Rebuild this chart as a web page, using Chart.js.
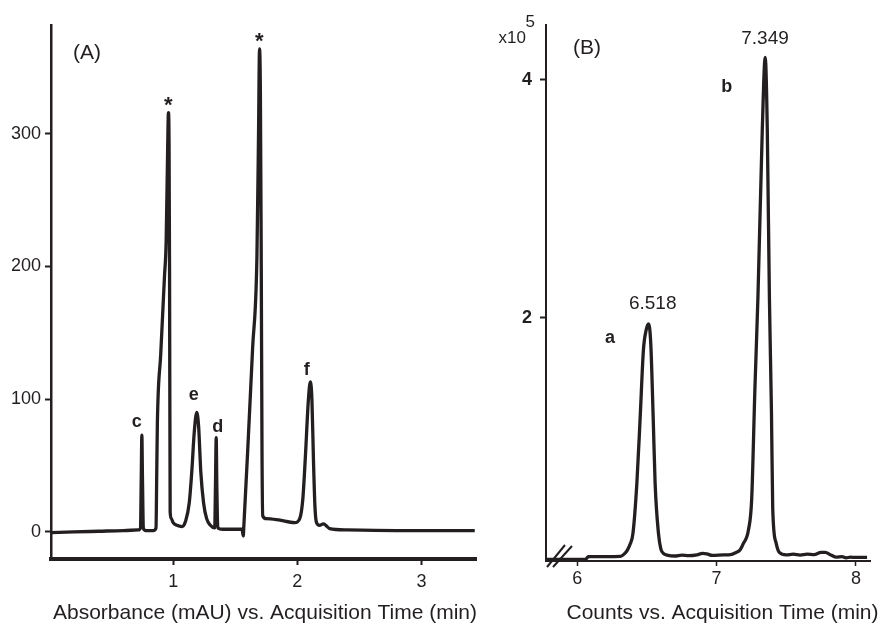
<!DOCTYPE html>
<html>
<head>
<meta charset="utf-8">
<script src="https://cdn.jsdelivr.net/npm/chart.js@4.4.0/dist/chart.umd.min.js"></script>
<style>
  body { margin: 0; background: #fff; }
  #wrap { position: relative; width: 882px; height: 624px; }
  canvas { position: absolute; top: 0; }
  #chartA { left: 0; }
  #chartB { left: 490px; }
</style>
</head>
<body>
<div id="wrap">
  <canvas id="chartA" width="490" height="624"></canvas>
  <canvas id="chartB" width="392" height="624"></canvas>
</div>
<script>
// ---- panel A: absorbance trace ----
const timeA = [0.016, 0.2, 0.4, 0.6, 0.72, 0.737, 0.743, 0.748, 0.753, 0.76, 0.78, 0.84, 0.862, 0.868, 0.873,
  0.90, 0.93, 0.944, 0.956, 0.962, 0.967, 0.971, 0.976, 0.985, 1.0, 1.03, 1.07, 1.1, 1.13, 1.15, 1.17, 1.19,
  1.205, 1.223, 1.245, 1.27, 1.3, 1.335, 1.341, 1.347, 1.352, 1.36, 1.4, 1.5, 1.555, 1.565, 1.57, 1.6, 1.64,
  1.675, 1.688, 1.696, 1.703, 1.71, 1.716, 1.722, 1.75, 1.85, 1.98, 2.02, 2.045, 2.065, 2.09, 2.105, 2.118,
  2.13, 2.142, 2.155, 2.18, 2.21, 2.23, 2.26, 2.4, 2.8, 3.2, 3.43];
const absA = [-0.5, 0, 0.5, 1, 1.5, 3, 40, 73, 40, 3, 1, 1, 3, 45, 82,
  134, 192, 220, 290, 316, 295, 200, 15, 10, 7, 5, 4, 8, 22, 45, 75, 90,
  80, 45, 22, 10, 5, 3, 35, 71, 35, 3, 2, 2, 2, -3, 5, 60, 138,
  207, 300, 364, 330, 200, 60, 12, 10, 9, 7, 10, 25, 56, 100, 113, 100,
  56, 20, 7, 5, 6, 5, 2.5, 1.5, 1, 1, 1];
const xTicksA = [1, 2, 3];
const yTicksA = [0, 100, 200, 300];
const peakNamesA = ['c', '*', 'e', 'd', '*', 'f'];
const peakTimesA = [0.748, 0.962, 1.19, 1.347, 1.696, 2.105];
const peakHeightsA = [73, 316, 90, 71, 364, 113];

// ---- panel B: MS counts (x10^5) ----
const timeB = [5.776, 6.06, 6.08, 6.2, 6.31, 6.34, 6.36, 6.38, 6.40, 6.428, 6.452, 6.475, 6.495, 6.512, 6.528,
  6.545, 6.559, 6.583, 6.60, 6.62, 6.645, 6.7, 6.75, 6.8, 6.86, 6.9, 6.93, 6.97, 7.05, 7.1, 7.14, 7.168, 7.19,
  7.229, 7.252, 7.275, 7.297, 7.328, 7.349, 7.364, 7.379, 7.394, 7.403, 7.427, 7.45, 7.5, 7.55, 7.6, 7.65,
  7.7, 7.75, 7.78, 7.82, 7.86, 7.9, 7.93, 7.96, 8.0, 8.08];
const countsB = [-0.028, -0.028, -0.005, -0.005, -0.003, 0.02, 0.05, 0.1, 0.19, 0.61, 1.17, 1.73, 1.9, 1.95, 1.78,
  1.17, 0.61, 0.19, 0.06, 0.02, 0.008, 0, 0.008, 0.003, 0.01, 0.022, 0.018, 0.005, 0.01, 0.012, 0.03, 0.05, 0.1,
  0.22, 0.48, 1.4, 2.18, 3.58, 4.19, 3.58, 2.18, 1.2, 0.4, 0.11, 0.03, 0.01, 0.015, 0.008, 0.015,
  0.012, 0.03, 0.03, 0.008, -0.01, -0.005, -0.015, -0.01, -0.012, -0.012];
const xTicksB = [6, 7, 8];
const yTicksB = [2, 4];
const peakNamesB = ['a', 'b'];
const peakTimesB = [6.518, 7.349];
const peakHeightsB = [1.95, 4.19];

const ink = '#231f20';
const family = "'Liberation Sans', Arial, Helvetica, sans-serif";
Chart.defaults.font.family = family;
Chart.defaults.color = ink;

// draw text so that its visible ink is centred on (cx, cy)
function drawInk(ctx, text, cx, cy, font) {
  ctx.font = font;
  ctx.textAlign = 'left';
  ctx.textBaseline = 'alphabetic';
  const m = ctx.measureText(text);
  const x = cx - (m.actualBoundingBoxRight - m.actualBoundingBoxLeft) / 2;
  const y = cy - (m.actualBoundingBoxDescent - m.actualBoundingBoxAscent) / 2;
  ctx.fillText(text, x, y);
}

function points(xs, ys) {
  return xs.map((t, i) => ({ x: t, y: ys[i] }));
}

function fixedTicks(list) {
  return scale => { scale.ticks = list.map(v => ({ value: v })); };
}

const labelOffsetsA = [[-5, -13], [0, -11], [-3, -17], [1, -12.5], [0, -11], [-3, -13.5]];
const valueOffsetsB = [[3, -21], [-0.5, -19.5]];
const nameOffsetsB = [[-39, 14], [-38, 28]];

const annotateA = {
  id: 'annotateA',
  afterDraw(chart) {
    const { ctx, chartArea } = chart;
    const { x, y } = chart.scales;
    ctx.save();
    ctx.fillStyle = ink;
    peakNamesA.forEach((name, i) => {
      const px = x.getPixelForValue(peakTimesA[i]);
      const py = y.getPixelForValue(peakHeightsA[i]);
      const font = name === '*' ? 'bold 22px ' + family : 'bold 18px ' + family;
      drawInk(ctx, name, px + labelOffsetsA[i][0], py + labelOffsetsA[i][1], font);
    });
    drawInk(ctx, '(A)', chartArea.left + 36, chartArea.top + 28, '21px ' + family);
    ctx.font = '21px ' + family;
    ctx.textAlign = 'center';
    ctx.textBaseline = 'alphabetic';
    ctx.fillText('Absorbance (mAU) vs. Acquisition Time (min)', 265, 619);
    ctx.restore();
  }
};

const annotateB = {
  id: 'annotateB',
  afterDraw(chart) {
    const { ctx, chartArea } = chart;
    const { x, y } = chart.scales;
    ctx.save();
    ctx.fillStyle = ink;
    peakNamesB.forEach((name, i) => {
      const px = x.getPixelForValue(peakTimesB[i]);
      const py = y.getPixelForValue(peakHeightsB[i]);
      drawInk(ctx, peakTimesB[i].toFixed(3), px + valueOffsetsB[i][0], py + valueOffsetsB[i][1], '19px ' + family);
      drawInk(ctx, name, px + nameOffsetsB[i][0], py + nameOffsetsB[i][1], 'bold 18px ' + family);
    });
    drawInk(ctx, '(B)', chartArea.left + 41, chartArea.top + 23, '21px ' + family);
    drawInk(ctx, 'x10', 22, 37, '17px ' + family);
    drawInk(ctx, '5', 40, 21, '17px ' + family);
    // axis break marks
    ctx.strokeStyle = ink;
    ctx.lineWidth = 2;
    const l = chartArea.left, b = chartArea.bottom;
    ctx.beginPath();
    ctx.moveTo(l + 1, b + 6); ctx.lineTo(l + 19, b - 16);
    ctx.moveTo(l + 7, b + 6); ctx.lineTo(l + 26, b - 15);
    ctx.stroke();
    ctx.font = '21px ' + family;
    ctx.textAlign = 'center';
    ctx.textBaseline = 'alphabetic';
    ctx.fillText('Counts vs. Acquisition Time (min)', 232.5, 619);
    ctx.restore();
  }
};

new Chart(document.getElementById('chartA'), {
  type: 'line',
  data: {
    datasets: [{
      data: points(timeA, absA),
      borderColor: ink,
      borderWidth: 3.3,
      pointRadius: 0,
      cubicInterpolationMode: 'monotone',
      fill: false
    }]
  },
  options: {
    responsive: false,
    animation: false,
    devicePixelRatio: 1,
    layout: { padding: { left: 0, top: 25, right: 14, bottom: 0 } },
    plugins: { legend: { display: false }, tooltip: { enabled: false } },
    scales: {
      x: {
        type: 'linear',
        min: 0.016,
        max: 3.44,
        afterBuildTicks: fixedTicks(xTicksA),
        afterFit: s => { s.height = 65; },
        border: { display: true, color: ink, width: 4 },
        grid: { drawOnChartArea: false, drawTicks: true, tickLength: 6, tickColor: ink, tickWidth: 2 },
        ticks: { font: { size: 18 }, color: ink, padding: 6, maxRotation: 0 }
      },
      y: {
        type: 'linear',
        min: -20.4,
        max: 382,
        afterBuildTicks: fixedTicks(yTicksA),
        afterFit: s => { s.width = 51; },
        border: { display: true, color: ink, width: 2.5 },
        grid: { drawOnChartArea: false, drawTicks: true, tickLength: 6, tickColor: ink, tickWidth: 2 },
        ticks: { font: { size: 18 }, color: ink, padding: 4 }
      }
    }
  },
  plugins: [annotateA]
});

new Chart(document.getElementById('chartB'), {
  type: 'line',
  data: {
    datasets: [{
      data: points(timeB, countsB),
      borderColor: ink,
      borderWidth: 3.3,
      pointRadius: 0,
      cubicInterpolationMode: 'monotone',
      fill: false
    }]
  },
  options: {
    responsive: false,
    animation: false,
    devicePixelRatio: 1,
    layout: { padding: { left: 0, top: 25, right: 12, bottom: 0 } },
    plugins: { legend: { display: false }, tooltip: { enabled: false } },
    scales: {
      x: {
        type: 'linear',
        min: 5.776,
        max: 8.101,
        afterBuildTicks: fixedTicks(xTicksB),
        afterFit: s => { s.height = 63; },
        border: { display: true, color: ink, width: 2 },
        grid: { drawOnChartArea: false, drawTicks: true, tickLength: 5, tickColor: ink, tickWidth: 1.5 },
        ticks: { font: { size: 18 }, color: ink, padding: 2, maxRotation: 0 }
      },
      y: {
        type: 'linear',
        min: -0.042,
        max: 4.462,
        afterBuildTicks: fixedTicks(yTicksB),
        afterFit: s => { s.width = 56; },
        border: { display: true, color: ink, width: 2 },
        grid: { drawOnChartArea: false, drawTicks: true, tickLength: 6, tickColor: ink, tickWidth: 2 },
        ticks: { font: { size: 18, weight: 'bold' }, color: ink, padding: 8 }
      }
    }
  },
  plugins: [annotateB]
});
</script>
</body>
</html>
